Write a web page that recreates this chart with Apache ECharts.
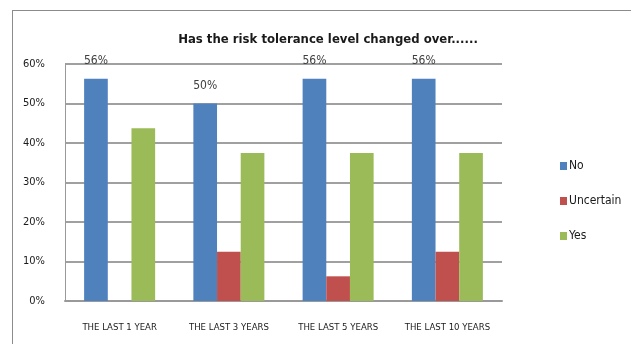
<!DOCTYPE html>
<html>
<head>
<meta charset="utf-8">
<script src="https://cdn.jsdelivr.net/npm/echarts@6/dist/echarts.min.js"></script>
<style>
  html, body { margin: 0; padding: 0; background: #fff; }
  #frame { position: absolute; left: 12px; top: 10px; width: 620px; height: 340px;
           border-left: 1px solid #8c8c8c; border-top: 1px solid #8c8c8c; }
  #chart { position: absolute; left: 0; top: 0; width: 631px; height: 344px; }
</style>
</head>
<body>
<div id="frame"></div>
<div id="chart"></div>
<script>
// data (percent)
var categories = ['THE LAST 1 YEAR', 'THE LAST 3 YEARS', 'THE LAST 5 YEARS', 'THE LAST 10 YEARS']
var seriesNames = ['No', 'Uncertain', 'Yes']
var noValues = [56.25, 50, 56.25, 56.25]
var uncertainValues = [0, 12.5, 6.25, 12.5]
var yesValues = [43.75, 37.5, 37.5, 37.5]
var noLabels = ['56%', '50%', '56%', '56%']
var colors = ['#4f81bd', '#c0504d', '#9bbb59']

var narrow = "'DejaVu Sans Condensed', 'Liberation Sans Narrow', sans-serif"

var chart = echarts.init(document.getElementById('chart'), null, { renderer: 'canvas' })
chart.setOption({
  animation: false,
  color: colors,
  title: {
    text: 'Has the risk tolerance level changed over......',
    left: 323,
    textAlign: 'center',
    top: 28,
    textStyle: { fontSize: 13, fontWeight: 'bold', color: '#1a1a1a', fontFamily: narrow }
  },
  legend: {
    orient: 'vertical',
    left: 555,
    top: 155,
    itemWidth: 7,
    itemHeight: 8,
    itemGap: 23,
    icon: 'rect',
    textStyle: { fontSize: 12, color: '#1a1a1a', fontFamily: narrow, padding: [0, 0, 0, -3] },
    data: seriesNames
  },
  grid: { left: 65, right: 129, top: 64, bottom: 43 },
  xAxis: {
    type: 'category',
    data: categories,
    axisTick: { show: false },
    axisLine: { lineStyle: { color: '#999', width: 2 } },
    axisLabel: { interval: 0, margin: 22, fontSize: 9.5, color: '#1a1a1a', fontFamily: narrow }
  },
  yAxis: {
    type: 'value',
    min: 0,
    max: 60,
    interval: 10,
    axisLine: { show: true, lineStyle: { color: '#999' } },
    axisTick: { show: false },
    splitLine: { lineStyle: { color: '#a0a0a0', width: 2 } },
    axisLabel: { formatter: '{value}%', margin: 20, fontSize: 11, color: '#1a1a1a', fontFamily: narrow }
  },
  series: [
    {
      name: seriesNames[0], type: 'bar', data: noValues,
      barGap: '0%', barCategoryGap: '35%',
      label: {
        show: true, position: 'top', distance: 12,
        fontSize: 12, color: '#404040', fontFamily: narrow,
        formatter: function (p) { return noLabels[p.dataIndex] }
      }
    },
    { name: seriesNames[1], type: 'bar', data: uncertainValues, barGap: '0%', barCategoryGap: '35%' },
    { name: seriesNames[2], type: 'bar', data: yesValues, barGap: '0%', barCategoryGap: '35%' }
  ]
})
</script>
</body>
</html>
